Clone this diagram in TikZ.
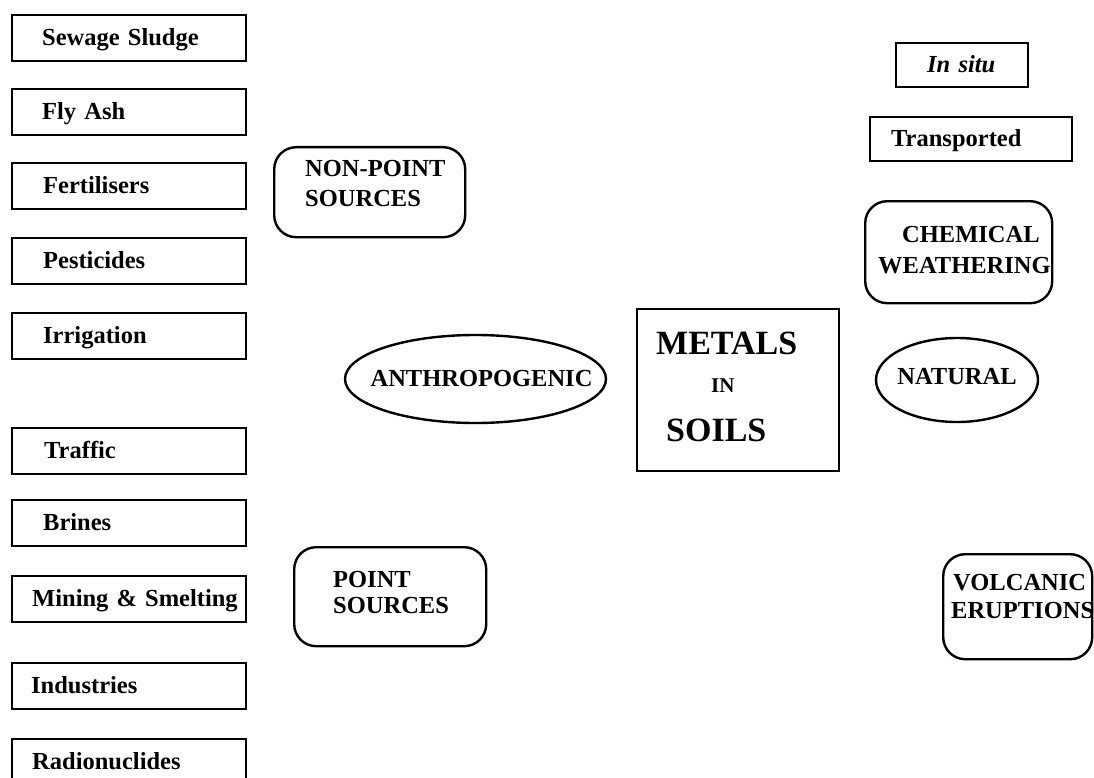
\documentclass[tikz,border=0pt]{standalone}
\usepackage{fontspec}
\setmainfont{Liberation Serif}
\usetikzlibrary{shapes.geometric}
\newcommand\fsrc{\bfseries\fontsize{24.5pt}{29pt}\selectfont}
\newcommand\fbig{\bfseries\fontsize{34pt}{40pt}\selectfont}
\newcommand\fsmallin{\bfseries\fontsize{21pt}{25pt}\selectfont}
\begin{document}
\begin{tikzpicture}[x=1pt,y=-1pt,
  srcbox/.style={draw, line width=2.4pt, anchor=north west, minimum width=234pt,
    minimum height=46pt, inner xsep=0pt, inner ysep=0pt, align=left,
    text width=#1, text height=18pt, text depth=4pt, font=\fsrc},
  frame/.style={draw, line width=2.4pt, anchor=north west, inner sep=0pt},
  rframe/.style={frame, rounded corners=22pt},
  lbl/.style={anchor=base west, inner sep=0pt, font=\fsrc},
  oval/.style={draw, ellipse, line width=2.4pt, inner sep=0pt, font=\fsrc}]
\useasboundingbox (0,0) rectangle (1094,778);
\clip (0,0) rectangle (1094,778);

% left column: sources
\node[srcbox=174pt] (sewage) at (11,14) {Sewage Sludge};
\node[srcbox=174pt] (flyash) at (11,88) {Fly Ash};
\node[srcbox=172pt] (fert) at (11,162) {Fertilisers};
\node[srcbox=172pt] (pest) at (11,237) {Pesticides};
\node[srcbox=172pt] (irrig) at (11,312) {Irrigation};
\node[srcbox=170pt] (traffic) at (11,427) {Traffic};
\node[srcbox=172pt] (brines) at (11,499) {Brines};
\node[srcbox=194pt] (mining) at (11,575) {\mbox{Mining \& Smelting}};
\node[srcbox=196pt] (industries) at (11,662) {Industries};
\node[srcbox=194pt] (radio) at (11,738) {Radionuclides};

% non-point / point sources
\node[rframe, minimum width=191pt, minimum height=90pt] (nonpoint) at (273,146) {};
\node[lbl] (nonpoint-a) at (305,177) {NON-POINT};
\node[lbl] (nonpoint-b) at (305,206) {SOURCES};

\node[rframe, minimum width=192pt, minimum height=99pt] (point) at (293,546) {};
\node[lbl] (point-a) at (333,587) {POINT};
\node[lbl] (point-b) at (333,613) {SOURCES};

% anthropogenic
\node[oval, minimum width=261pt, minimum height=88pt] (anthro) at (475.5,379)
  {\makebox[0pt]{\hspace*{12pt}ANTHROPOGENIC}};

% centre
\node[frame, minimum width=202pt, minimum height=162pt] (metals) at (636,308) {};
\node[lbl, font=\fbig] (metals-a) at (656,354) {METALS};
\node[lbl, font=\fsmallin] (metals-b) at (711,392) {IN};
\node[lbl, font=\fbig] (metals-c) at (666,441) {SOILS};

% natural side
\node[srcbox=70pt, minimum width=132pt, minimum height=44pt, font=\fsrc\itshape] (insitu) at (895,42) {In situ};
\node[srcbox=160pt, minimum width=202pt, minimum height=44pt] (transported) at (869,116) {Transported};

\node[rframe, minimum width=187pt, minimum height=102pt] (chem) at (864,200) {};
\node[lbl] (chem-a) at (902,242) {CHEMICAL};
\node[lbl] (chem-b) at (878,273) {WEATHERING};

\node[oval, minimum width=162pt, minimum height=84pt] (natural) at (957,380)
  {\makebox[0pt]{\raisebox{7pt}{NATURAL}}};

\node[rframe, minimum width=149pt, minimum height=105pt] (volcanic) at (942,553) {};
\node[lbl] (volcanic-a) at (953,590) {VOLCANIC};
\node[lbl] (volcanic-b) at (951,618) {ERUPTIONS};
\end{tikzpicture}
\end{document}
